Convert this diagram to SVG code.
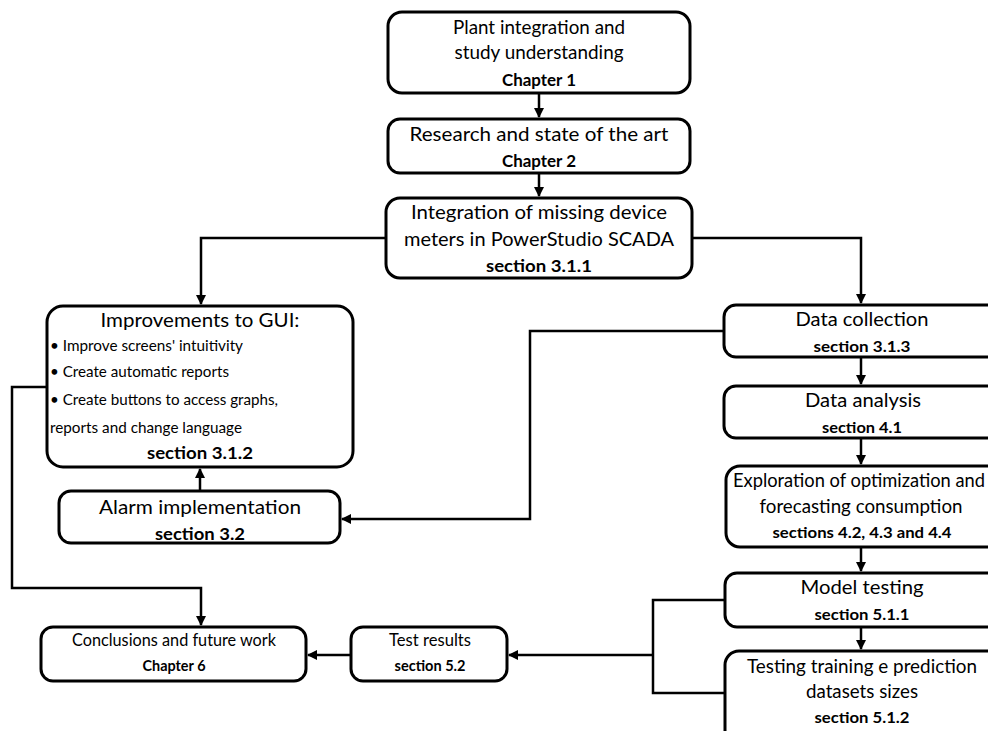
<svg xmlns="http://www.w3.org/2000/svg" width="988" height="731" viewBox="0 0 988 731">
<defs>
<marker id="ah" viewBox="0 0 10 10" refX="9" refY="5" markerWidth="4" markerHeight="4" orient="auto" markerUnits="strokeWidth">
<path d="M0,0 L10,5 L0,10 z" fill="#000"/>
</marker>
<style>
.box{fill:#fff;stroke:#000;stroke-width:3}
text{font-family:Lato,"Liberation Sans",sans-serif;fill:#000}
.t{font-size:20px;text-anchor:middle}
.r{font-size:18.5px;text-anchor:middle}
.q{font-size:17.5px;text-anchor:middle}
.b{font-size:17.5px;font-weight:bold;text-anchor:middle}
.rb{font-size:15.5px;font-weight:bold;text-anchor:middle}
.qb{font-size:14.5px;font-weight:bold;text-anchor:middle}
.s{font-size:15.3px}
.c{fill:none;stroke:#000;stroke-width:2.5}
</style>
</defs>
<rect width="988" height="731" fill="#fff"/>
<g id="connectors">
<path class="c" d="M539,93 V117" marker-end="url(#ah)"/>
<path class="c" d="M539,173 V196" marker-end="url(#ah)"/>
<path class="c" d="M386,238 H201 V304" marker-end="url(#ah)"/>
<path class="c" d="M692,238 H861 V303" marker-end="url(#ah)"/>
<path class="c" d="M200,491 V469" marker-end="url(#ah)"/>
<path class="c" d="M724,331 H530 V519 H342" marker-end="url(#ah)"/>
<path class="c" d="M47,387 H12 V588 H201 V625" marker-end="url(#ah)"/>
<path class="c" d="M861,357 V384" marker-end="url(#ah)"/>
<path class="c" d="M861,438 V464" marker-end="url(#ah)"/>
<path class="c" d="M861,547 V571" marker-end="url(#ah)"/>
<path class="c" d="M861,627 V649" marker-end="url(#ah)"/>
<path class="c" d="M725,600 H653 V693 H725"/>
<path class="c" d="M653,655 H509" marker-end="url(#ah)"/>
<path class="c" d="M351,655 H308" marker-end="url(#ah)"/>
</g>
<g id="n1">
<rect class="box" x="388" y="12" width="302" height="81" rx="14"/>
<text class="t" x="539" y="34" textLength="172" lengthAdjust="spacingAndGlyphs">Plant integration and</text>
<text class="t" x="539" y="59" textLength="169" lengthAdjust="spacingAndGlyphs">study understanding</text>
<text class="b" x="539" y="86" textLength="74" lengthAdjust="spacingAndGlyphs">Chapter 1</text>
</g>
<g id="n2">
<rect class="box" x="388" y="119" width="302" height="54" rx="12"/>
<text class="t" x="539" y="141" textLength="259" lengthAdjust="spacingAndGlyphs">Research and state of the art</text>
<text class="b" x="539" y="167" textLength="74" lengthAdjust="spacingAndGlyphs">Chapter 2</text>
</g>
<g id="n3">
<rect class="box" x="386" y="198" width="306" height="80" rx="14"/>
<text class="t" x="539" y="219" textLength="256" lengthAdjust="spacingAndGlyphs">Integration of missing device</text>
<text class="t" x="539" y="246" textLength="270" lengthAdjust="spacingAndGlyphs">meters in PowerStudio SCADA</text>
<text class="b" x="539" y="272" textLength="106" lengthAdjust="spacingAndGlyphs">section 3.1.1</text>
</g>
<g id="n4">
<rect class="box" x="47" y="306" width="306" height="161" rx="16"/>
<text class="t" x="200" y="327" textLength="199" lengthAdjust="spacingAndGlyphs">Improvements to GUI:</text>
<text class="s" x="50" y="351" textLength="193" lengthAdjust="spacingAndGlyphs">• Improve screens' intuitivity</text>
<text class="s" x="50" y="377" textLength="179" lengthAdjust="spacingAndGlyphs">• Create automatic reports</text>
<text class="s" x="50" y="405" textLength="228" lengthAdjust="spacingAndGlyphs">• Create buttons to access graphs,</text>
<text class="s" x="50" y="433" textLength="192" lengthAdjust="spacingAndGlyphs">reports and change language</text>
<text class="b" x="200" y="459" textLength="106" lengthAdjust="spacingAndGlyphs">section 3.1.2</text>
</g>
<g id="n5">
<rect class="box" x="59" y="491" width="281" height="52" rx="12"/>
<text class="t" x="200" y="514" textLength="202" lengthAdjust="spacingAndGlyphs">Alarm implementation</text>
<text class="b" x="200" y="540" textLength="90" lengthAdjust="spacingAndGlyphs">section 3.2</text>
</g>
<g id="n6">
<rect class="box" x="724" y="305" width="280" height="52" rx="12"/>
<text class="r" x="862" y="326" textLength="133" lengthAdjust="spacingAndGlyphs">Data collection</text>
<text class="rb" x="862" y="352" textLength="97" lengthAdjust="spacingAndGlyphs">section 3.1.3</text>
</g>
<g id="n7">
<rect class="box" x="724" y="386" width="280" height="52" rx="12"/>
<text class="r" x="863" y="407" textLength="116" lengthAdjust="spacingAndGlyphs">Data analysis</text>
<text class="rb" x="862" y="433" textLength="80" lengthAdjust="spacingAndGlyphs">section 4.1</text>
</g>
<g id="n8">
<rect class="box" x="726" y="466" width="280" height="81" rx="14"/>
<text class="r" x="859" y="487" textLength="252" lengthAdjust="spacingAndGlyphs">Exploration of optimization and</text>
<text class="r" x="861" y="513" textLength="203" lengthAdjust="spacingAndGlyphs">forecasting consumption</text>
<text class="rb" x="862" y="538" textLength="179" lengthAdjust="spacingAndGlyphs">sections 4.2, 4.3 and 4.4</text>
</g>
<g id="n9">
<rect class="box" x="725" y="573" width="280" height="54" rx="12"/>
<text class="r" x="862" y="594" textLength="123" lengthAdjust="spacingAndGlyphs">Model testing</text>
<text class="rb" x="862" y="620" textLength="95" lengthAdjust="spacingAndGlyphs">section 5.1.1</text>
</g>
<g id="n10">
<rect class="box" x="725" y="651" width="280" height="100" rx="14"/>
<text class="r" x="862" y="673" textLength="230" lengthAdjust="spacingAndGlyphs">Testing training e prediction</text>
<text class="r" x="862" y="698" textLength="112" lengthAdjust="spacingAndGlyphs">datasets sizes</text>
<text class="rb" x="862" y="723" textLength="95" lengthAdjust="spacingAndGlyphs">section 5.1.2</text>
</g>
<g id="n11">
<rect class="box" x="41" y="627" width="265" height="54" rx="12"/>
<text class="q" x="174" y="646" textLength="204" lengthAdjust="spacingAndGlyphs">Conclusions and future work</text>
<text class="qb" x="174" y="671" textLength="63" lengthAdjust="spacingAndGlyphs">Chapter 6</text>
</g>
<g id="n12">
<rect class="box" x="351" y="627" width="156" height="54" rx="12"/>
<text class="q" x="430" y="646" textLength="82" lengthAdjust="spacingAndGlyphs">Test results</text>
<text class="qb" x="430" y="671" textLength="71" lengthAdjust="spacingAndGlyphs">section 5.2</text>
</g>
</svg>
